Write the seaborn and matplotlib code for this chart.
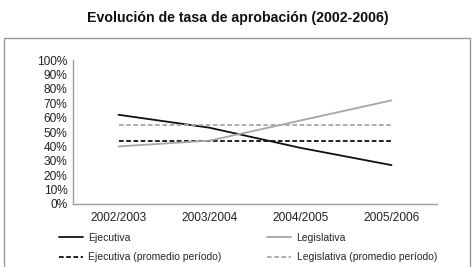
import pandas as pd
import matplotlib
matplotlib.use("Agg")
import matplotlib.pyplot as plt
import seaborn as sns
from matplotlib.patches import Rectangle

# --- data ---
periodos = ["2002/2003", "2003/2004", "2004/2005", "2005/2006"]
ejecutiva = [0.62, 0.53, 0.39, 0.27]
legislativa = [0.40, 0.44, 0.58, 0.72]
ejecutiva_prom = 0.44
legislativa_prom = 0.55

sns.set_theme(style="white")
plt.rcParams.update({
    'font.family': ['Liberation Sans', 'DejaVu Sans'],
    'axes.linewidth': 1.0,
})

NEGRO = '#111111'
GRIS = '#a6a6a6'

fig = plt.figure(figsize=(4.75, 2.67), dpi=100)
ax = fig.add_axes([0.1537, 0.236, 0.7663, 0.539])

series = [
    ("Ejecutiva", ejecutiva, NEGRO, '-'),
    ("Ejecutiva (promedio período)", [ejecutiva_prom] * len(periodos), NEGRO, '--'),
    ("Legislativa", legislativa, GRIS, '-'),
    ("Legislativa (promedio período)", [legislativa_prom] * len(periodos), GRIS, '--'),
]
for name, vals, col, ls in series:
    df = pd.DataFrame({'periodo': periodos, 'valor': vals})
    sns.lineplot(data=df, x='periodo', y='valor', ax=ax, color=col,
                 linestyle=ls, linewidth=1.3, label=name, sort=False)
    if ls == '--':
        ax.lines[-1].set_dashes((2.6, 1.4))

ax.set_xlim(-0.5, 3.5)
ax.set_ylim(0, 1.0)
ax.set_yticks([i / 10 for i in range(11)])
ax.set_yticklabels([f"{i * 10}%" for i in range(11)])
ax.set_xlabel("")
ax.set_ylabel("")
ax.tick_params(axis='both', length=0, labelsize=8.6, colors='#222222')
ax.tick_params(axis='x', pad=6)
ax.tick_params(axis='y', pad=4)
for s in ['top', 'right']:
    ax.spines[s].set_visible(False)
for s in ['left', 'bottom']:
    ax.spines[s].set_color('#a0a0a0')
    ax.spines[s].set_linewidth(1.0)

handles, labels = ax.get_legend_handles_labels()
ax.legend(handles, labels, ncol=2, loc='upper left',
          bbox_to_anchor=(59 / 475, 1 - 233 / 267), bbox_transform=fig.transFigure,
          frameon=False, fontsize=7.5, handlelength=2.3, handletextpad=0.5,
          columnspacing=4.4, labelspacing=0.9, borderaxespad=0, borderpad=0)

fig.text(0.5, 1 - 18 / 267, "Evolución de tasa de aprobación (2002-2006)",
         ha='center', va='center', fontsize=10.2, fontweight='bold', color='#111111')

# outer frame around the plot area
fig.add_artist(Rectangle((4 / 475, -0.05), 466 / 475, 1.05 - 38 / 267,
                         transform=fig.transFigure, fill=False,
                         edgecolor='#999999', linewidth=1.0))

fig.savefig("out.png", dpi=100)
